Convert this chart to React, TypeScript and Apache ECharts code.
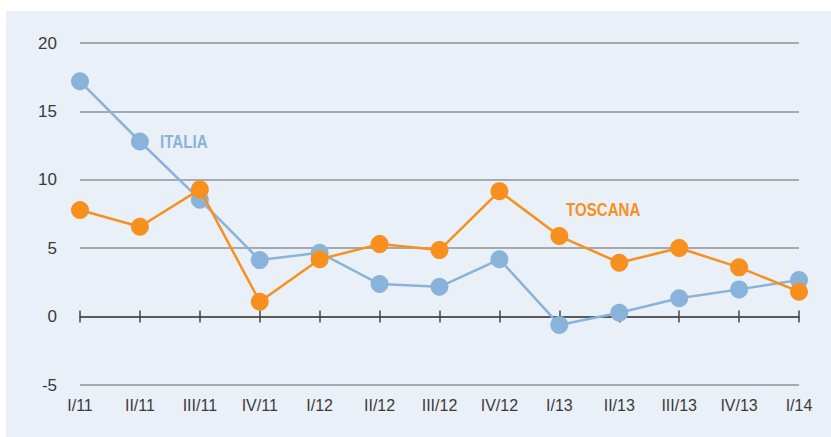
import React, { useEffect, useRef } from "react";
import * as echarts from "echarts";

const categories = ["I/11", "II/11", "III/11", "IV/11", "I/12", "II/12", "III/12", "IV/12", "I/13", "II/13", "III/13", "IV/13", "I/14"];
const italia = [17.2, 12.8, 8.55, 4.13, 4.67, 2.38, 2.18, 4.19, -0.61, 0.28, 1.34, 1.99, 2.67];
const toscana = [7.79, 6.57, 9.3, 1.09, 4.19, 5.3, 4.86, 9.17, 5.89, 3.94, 5.01, 3.6, 1.82];
const yTicks = [-5, 0, 5, 10, 15, 20];

const BLUE = "#89B3DA";
const ORANGE = "#F7901E";
const FONT = "'Liberation Sans', Arial, sans-serif";

export default function App() {
  const ref = useRef<HTMLDivElement>(null);
  useEffect(() => {
    if (!ref.current) return;
    const chart = echarts.init(ref.current, null, { renderer: "svg" });
    const baseX = {
      type: "category" as const,
      data: categories,
      boundaryGap: false,
      position: "bottom" as const,
    };
    const zeroLine = { show: true, onZero: true, onZeroAxisIndex: 0, lineStyle: { color: "#555555", width: 1.5 } };
    chart.setOption({
      animation: false,
      backgroundColor: "#ffffff",
      graphic: [
        {
          type: "rect",
          z: -10,
          silent: true,
          shape: { x: 6, y: 11, width: 825, height: 426 },
          style: { fill: "#EAF0F8" },
        },
        {
          type: "text",
          x: 160,
          y: 142,
          scaleX: 0.84,
          style: {
            text: "ITALIA",
            fill: BLUE,
            font: `bold 18px ${FONT}`,
            verticalAlign: "middle",
          },
        },
        {
          type: "text",
          x: 566,
          y: 210,
          scaleX: 0.84,
          style: {
            text: "TOSCANA",
            fill: ORANGE,
            font: `bold 18px ${FONT}`,
            verticalAlign: "middle",
          },
        },
      ],
      grid: { left: 80, right: 32, top: 43, bottom: 52, containLabel: false },
      xAxis: [
        {
          ...baseX,
          axisLine: { show: false, onZero: false },
          axisTick: { show: false },
          axisLabel: { color: "#3a3a3a", fontSize: 16, fontFamily: FONT, margin: 12 },
        },
        {
          ...baseX,
          axisLine: zeroLine,
          axisTick: { show: true, inside: false, length: 6, lineStyle: { color: "#444444", width: 1.5 } },
          axisLabel: { show: false },
        },
        {
          ...baseX,
          axisLine: zeroLine,
          axisTick: { show: true, inside: true, length: 6, lineStyle: { color: "#444444", width: 1.5 } },
          axisLabel: { show: false },
        },
      ],
      yAxis: {
        type: "value",
        min: yTicks[0],
        max: yTicks[yTicks.length - 1],
        interval: 5,
        axisLine: { show: false },
        axisTick: { show: false },
        axisLabel: { color: "#3a3a3a", fontSize: 17, fontFamily: FONT, margin: 23 },
        splitLine: { show: true, lineStyle: { color: "#A7A9AC", width: 2 } },
      },
      series: [
        {
          name: "ITALIA",
          type: "line",
          data: italia,
          symbol: "circle",
          symbolSize: 18,
          lineStyle: { color: BLUE, width: 2.5 },
          itemStyle: { color: BLUE },
          z: 3,
        },
        {
          name: "TOSCANA",
          type: "line",
          data: toscana,
          symbol: "circle",
          symbolSize: 18,
          lineStyle: { color: ORANGE, width: 2.5 },
          itemStyle: { color: ORANGE },
          z: 4,
        },
      ],
    });
    return () => chart.dispose();
  }, []);
  return (
    <div
      ref={ref}
      style={{ position: "fixed", left: 0, top: 0, width: 831, height: 437 }}
    />
  );
}
